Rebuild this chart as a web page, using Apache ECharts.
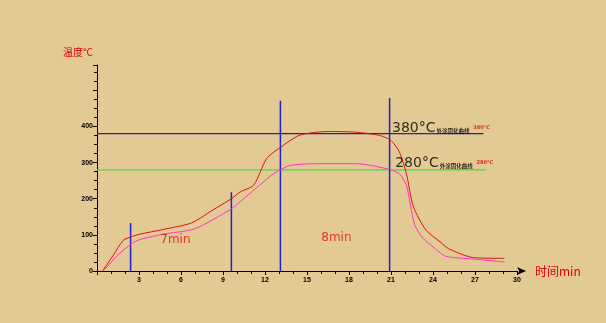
<!DOCTYPE html>
<html><head><meta charset="utf-8">
<script src="https://cdn.jsdelivr.net/npm/echarts@6/dist/echarts.min.js"></script>
<style>html,body{margin:0;padding:0;background:#e3c994}#c{width:606px;height:323px}</style>
</head><body><div id="c"></div>
<script>
// Curve data: [time(min), temperature(°C)]
const redX = [0.4, 1.17, 1.88, 2.48, 3.07, 4.74, 6.76, 8.2, 9.6, 10.2, 11.2, 12.1, 13.1, 14.5, 16.6, 18.5, 20.2, 21.0, 21.6, 22.1, 22.6, 23.5, 24.5, 25.1, 26.9, 29.1];
const redY = [0, 44, 85, 95, 102, 115, 133, 167, 200, 218, 238, 310, 342, 376, 386, 384, 375, 361, 329, 269, 178, 113, 81, 62, 37, 35];
const pinkX = [0.4, 0.69, 1.4, 2.48, 3.07, 4.74, 7.0, 9.6, 10.2, 12.0, 12.6, 13.8, 16.2, 18.5, 20.7, 21.6, 22.1, 22.4, 22.7, 23.3, 24.0, 24.9, 26.9, 29.1];
const pinkY = [0, 10, 41, 76, 87, 102, 117, 172, 191, 250, 269, 292, 297, 297, 283, 269, 237, 180, 127, 90, 67, 41, 33, 25];
// reference lines
const hLineY = [380, 280];
const hLineEnd = [27.6, 27.8];
const vLineX = [2.4, 9.6, 13.1, 20.9];
const vLineTop = [133, 218, 471, 479];
// annotations
const tempLabels = ['380°C', '280°C'];
const tempLabelPos = [[21.07, 396], [21.3, 299]];
const curveName = '外涂固化曲线';
const durLabels = ['7min', '8min'];
const durLabelPos = [[5.6, 86], [17.1, 91]];
const xTicks = [3, 6, 9, 12, 15, 18, 21, 24, 27, 30];
const yTicks = [0, 100, 200, 300, 400];

const zip = (a, b) => a.map((v, i) => [v, b[i]]);
const series = [];
const hColors = ['#2020c0', '#44dd33'];
hLineY.forEach((y, i) => series.push({
  type: 'line', data: [[0, y], [hLineEnd[i], y]], symbol: 'none', silent: true,
  lineStyle: { color: hColors[i], width: 1.2 }, z: 2
}));
vLineX.forEach((x, i) => series.push({
  type: 'line', data: [[x, 0], [x, vLineTop[i]]], symbol: 'none', silent: true,
  lineStyle: { color: '#2020c8', width: 1.5 }, z: 2
}));
series.push({ type: 'line', data: zip(redX, redY), symbol: 'none', smooth: 0.25,
  lineStyle: { color: '#e01010', width: 1 }, z: 3 });
series.push({ type: 'line', data: zip(pinkX, pinkY), symbol: 'none', smooth: 0.25,
  lineStyle: { color: '#ff30d0', width: 1 }, z: 3 });
series.push({
  type: 'scatter', symbolSize: 0, silent: true, z: 5,
  data: tempLabelPos.map((p, i) => ({ value: p, name: tempLabels[i] })),
  label: {
    show: true, position: [0, 0], align: 'left', verticalAlign: 'middle',
    formatter: p => '{a|' + p.name + '}{b|' + curveName + '}{c| ' + p.name + '}',
    rich: {
      a: { fontFamily: 'DejaVu Sans', fontSize: 14, color: '#000', verticalAlign: 'bottom' },
      b: { fontFamily: 'Noto Sans CJK SC', fontSize: 5.5, fontWeight: 'bold', color: '#000', verticalAlign: 'bottom', padding: [0, 0, 1, 1] },
      c: { fontFamily: 'DejaVu Sans', fontSize: 5, fontWeight: 'bold', color: '#e00000', verticalAlign: 'middle', padding: [0, 0, 0, 2] }
    }
  }
});
series.push({
  type: 'scatter', symbolSize: 0, silent: true, z: 5,
  data: durLabelPos.map((p, i) => ({ value: p, name: durLabels[i] })),
  label: { show: true, position: [0, 0], align: 'center', verticalAlign: 'middle',
    formatter: p => p.name, fontFamily: 'DejaVu Sans', fontSize: 12, color: '#e01010' }
});

const chart = echarts.init(document.getElementById('c'), null, { renderer: 'canvas' });
chart.setOption({
  backgroundColor: '#e3c994',
  animation: false,
  grid: { left: 97, right: 89, top: 65, bottom: 52 },
  xAxis: {
    type: 'value', min: 0, max: 30, interval: 3,
    name: '时间min', nameLocation: 'end', nameGap: 18,
    nameTextStyle: { color: '#e00000', fontSize: 12, fontFamily: 'Noto Sans CJK SC', verticalAlign: 'middle' },
    axisLine: { show: true, lineStyle: { color: '#000', width: 1 }, symbol: ['none', 'arrow'], symbolSize: [6, 9], symbolOffset: [0, 9] },
    axisTick: { show: true, length: 4, lineStyle: { color: '#000' } },
    minorTick: { show: true, splitNumber: 3, length: 3, lineStyle: { color: '#000' } },
    splitLine: { show: false },
    axisLabel: { color: '#000', fontSize: 7, fontWeight: 'bold', margin: 6,
      formatter: v => xTicks.includes(v) ? String(v) : '' }
  },
  yAxis: {
    type: 'value', min: 0, max: 570, interval: 100,
    name: '温度°C', nameLocation: 'end', nameGap: 8,
    nameTextStyle: { color: '#e00000', fontSize: 10, fontFamily: 'Noto Sans CJK SC', align: 'right', padding: [0, 4, 0, 0] },
    axisLine: { show: true, lineStyle: { color: '#000', width: 1 } },
    axisTick: { show: true, length: 4, lineStyle: { color: '#000' } },
    minorTick: { show: true, splitNumber: 4, length: 3, lineStyle: { color: '#000' } },
    splitLine: { show: false },
    axisLabel: { color: '#000', fontSize: 7, fontWeight: 'bold', margin: 4,
      formatter: v => yTicks.includes(v) ? String(v) : '' }
  },
  series: series
});
</script></body></html>
